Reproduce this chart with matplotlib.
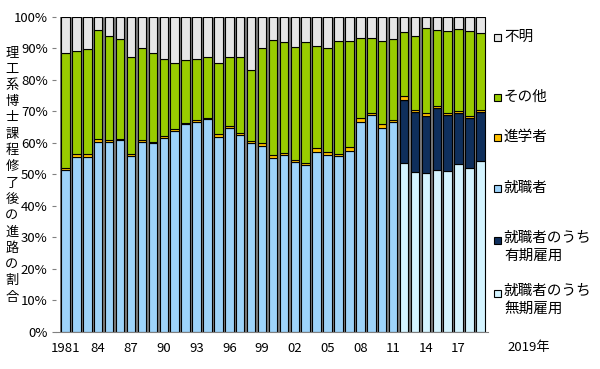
import numpy as np
import matplotlib
matplotlib.use("Agg")
import matplotlib.pyplot as plt
from matplotlib.patches import Rectangle

plt.rcParams['font.family'] = ['Noto Sans CJK JP', 'DejaVu Sans']

years = list(range(1981, 2020))

# 就職者 (1981-2011), 以降は内訳のみ
shushoku = [51.4, 55.6, 55.7, 60.4, 60.2, 60.8, 55.9, 60.4, 59.9, 61.7,
            63.8, 65.9, 66.8, 67.5, 62.0, 64.6, 62.4, 60.1, 59.0, 55.1,
            56.2, 53.9, 53.0, 57.2, 56.2, 55.9, 57.5, 66.6, 68.9, 64.7,
            66.6, 0, 0, 0, 0, 0, 0, 0, 0]
mumuki = [0] * 31 + [53.5, 50.7, 50.4, 51.4, 51.2, 53.3, 52.2, 54.3]
yuki = [0] * 31 + [20.2, 19.2, 18.2, 19.6, 17.7, 16.1, 15.6, 15.5]
shingaku = [0.8, 1.0, 0.9, 0.8, 0.6, 0.6, 0.7, 0.6, 0.5, 0.5,
            0.5, 0.6, 0.5, 0.5, 1.0, 0.7, 0.8, 0.6, 1.0, 1.2,
            0.7, 0.6, 0.8, 1.3, 0.8, 0.6, 1.3, 1.2, 0.5, 1.2,
            0.6, 1.3, 0.6, 1.0, 0.6, 0.7, 0.6, 0.8, 0.6]
sonota = [36.5, 32.7, 33.2, 34.7, 33.2, 31.5, 30.6, 29.3, 28.1, 24.4,
          21.0, 19.8, 19.3, 19.2, 22.3, 21.9, 24.0, 22.5, 30.0, 36.4,
          35.3, 36.1, 38.2, 32.3, 33.3, 35.9, 33.7, 25.6, 24.0, 26.6,
          25.7, 20.3, 23.5, 26.8, 24.3, 26.1, 26.1, 27.1, 24.6]
fumei = [11.3, 10.7, 10.2, 4.1, 6.0, 7.1, 12.8, 9.7, 11.5, 13.4,
         14.7, 13.7, 13.4, 12.8, 14.7, 12.8, 12.8, 16.8, 10.0, 7.3,
         7.8, 9.4, 8.0, 9.2, 9.7, 7.6, 7.5, 6.6, 6.6, 7.5,
         7.1, 4.7, 6.0, 3.6, 4.1, 4.3, 3.9, 4.3, 5.0]

tick_years = list(range(1981, 2019, 3))
tick_labels = ['1981', '84', '87', '90', '93', '96', '99', '02', '05', '08', '11', '14', '17']

series = [
    (mumuki, '#d4f4ff', '就職者のうち\n無期雇用'),
    (yuki, '#0f2f5c', '就職者のうち\n有期雇用'),
    (shushoku, '#9dd3fa', '就職者'),
    (shingaku, '#ffc000', '進学者'),
    (sonota, '#99cc00', 'その他'),
    (fumei, '#e6e6e6', '不明'),
]

fig = plt.figure(figsize=(6, 3.69), dpi=100)
ax = fig.add_axes([0.0933, 0.1003, 0.72, 0.8537])

x = np.arange(len(years))
# gray shadow between bars
ax.bar(x, 100, width=1.0, color='#7a7a7a', zorder=1)
bottom = np.zeros(len(years))
for vals, col, lab in series:
    v = np.array(vals, dtype=float)
    ax.bar(x, v, bottom=bottom, width=0.78, color=col, edgecolor='black',
           linewidth=0.8, zorder=2)
    bottom += v

ax.set_xlim(-0.87, len(years) - 1 + 0.69)
ax.set_ylim(0, 100)
ax.set_yticks(range(0, 101, 10))
ax.set_yticklabels([f'{v}%' for v in range(0, 101, 10)], fontsize=9.5)
ax.set_xticks([years.index(y) for y in tick_years])
ax.set_xticklabels(tick_labels, fontsize=9.5)
ax.tick_params(axis='x', length=0, pad=7)
ax.tick_params(axis='y', length=3, color='#808080', pad=3)
for s in ['top', 'right', 'left']:
    ax.spines[s].set_visible(False)
ax.spines['bottom'].set_color('#808080')

fig.text(12 / 600, 1 - 175 / 369, '\n'.join('理工系博士課程修了後の進路の割合'),
         ha='center', va='center', fontsize=9.5, linespacing=1.33)

fig.text(507 / 600, 1 - 348 / 369, '2019年', ha='left', va='center', fontsize=9.5)

# legend, drawn by hand
leg_rows = [('不明', '#e6e6e6', 37), ('その他', '#99cc00', 97), ('進学者', '#ffc000', 137),
            ('就職者', '#9dd3fa', 188), ('就職者のうち\n有期雇用', '#0f2f5c', 240),
            ('就職者のうち\n無期雇用', '#d4f4ff', 293)]
for lab, col, ypix in leg_rows:
    fig.patches.append(Rectangle((494 / 600, 1 - (ypix + 3.5) / 369), 7 / 600, 7 / 369,
                                 transform=fig.transFigure, facecolor=col,
                                 edgecolor='black', linewidth=0.8))
    if '\n' in lab:
        fig.text(504 / 600, 1 - (ypix - 9) / 369, lab, ha='left', va='top',
                 fontsize=10.5, linespacing=1.35)
    else:
        fig.text(504 / 600, 1 - ypix / 369, lab, ha='left', va='center', fontsize=10.5)

fig.savefig('out.png', dpi=100)
